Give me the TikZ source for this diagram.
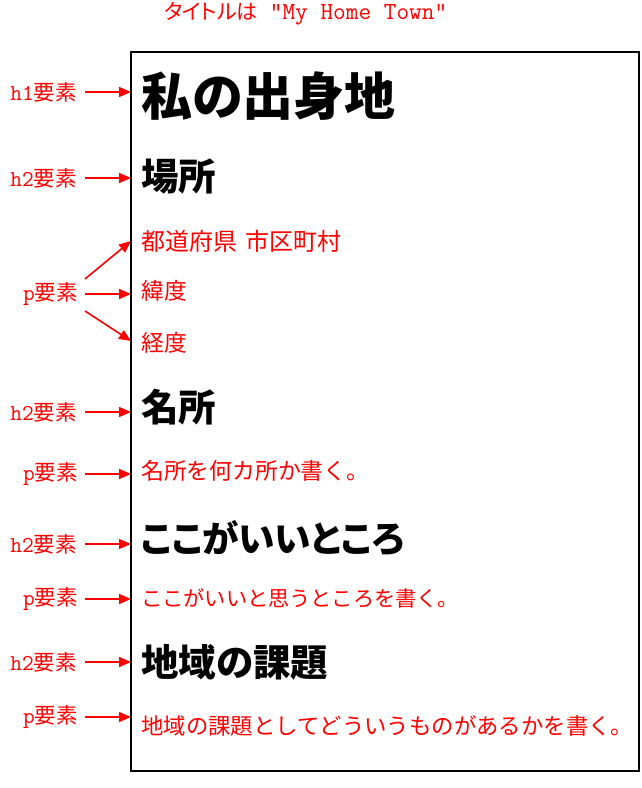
\documentclass[tikz,border=0pt]{standalone}
\usepackage{fontspec}
\usetikzlibrary{arrows.meta}
\newfontfamily\jp{Noto Sans CJK JP}
\newfontfamily\jpp{Noto Sans CJK JP}[RawFeature=+palt]
\newfontfamily\mono{Latin Modern Mono}
\definecolor{myred}{HTML}{FF0000}
\begin{document}
\begin{tikzpicture}[x=1pt,y=-1pt,
  lbl/.style={inner sep=0pt,anchor=east,text=myred},
  hone/.style={inner sep=0pt,anchor=west,font=\jpp\bfseries\fontsize{51}{60}\selectfont},
  htwo/.style={inner sep=0pt,anchor=west,font=\jpp\bfseries\fontsize{37.5}{44}\selectfont},
  ptext/.style={inner sep=0pt,anchor=west,text=myred,font=\jp\fontsize{22.8}{26}\selectfont},
  arr/.style={draw=myred,line width=1.6pt,-{Triangle[length=12pt,width=10pt]}},
  pagebox/.style={draw=black,line width=1.5pt}]
\useasboundingbox (0,0) rectangle (641,788);
\newcommand{\lab}[1]{{\mono\fontsize{22.8}{24}\selectfont #1}{\jp\fontsize{21.5}{24}\selectfont 要素}}
% title
\node[inner sep=0pt,anchor=west,text=myred] (title) at (164,14)
  {{\jpp\fontsize{21}{25}\selectfont タイトルは}\hspace{12pt}{\mono\fontsize{24.6}{25}\selectfont "My Home Town"}};
% page box
\draw[pagebox] (131,52) rectangle (639,771);
% contents
\node[hone] (t1) at (141,96) {私の出身地};
\node[htwo] (t2) at (141,176) {場所};
\node[ptext,font=\jp\fontsize{24}{26}\selectfont] (t3) at (141,241) {都道府県\hspace{8pt}市区町村};
\node[ptext] (t4) at (141,291) {緯度};
\node[ptext] (t5) at (141,343) {経度};
\node[htwo] (t6) at (141,407) {名所};
\node[ptext] (t7) at (141,471) {名所を何カ所か書く。};
\node[htwo,font=\jpp\bfseries\fontsize{36.5}{44}\selectfont] (t8) at (141,538) {ここがいいところ};
\node[ptext,font=\jp\fontsize{21.2}{26}\selectfont] (t9) at (141,598) {ここがいいと思うところを書く。};
\node[htwo] (t10) at (141,662) {地域の課題};
\node[ptext,font=\jp\fontsize{22.4}{26}\selectfont] (t11) at (141,726) {地域の課題としてどういうものがあるかを書く。};
% labels
\node[lbl] (l1) at (77,92) {\lab{h1}};
\node[lbl] (l2) at (77,178) {\lab{h2}};
\node[lbl] (l3) at (78,294) {\lab{p}};
\node[lbl] (l4) at (77,412) {\lab{h2}};
\node[lbl] (l5) at (78,474) {\lab{p}};
\node[lbl] (l6) at (77,544) {\lab{h2}};
\node[lbl] (l7) at (78,599) {\lab{p}};
\node[lbl] (l8) at (77,662) {\lab{h2}};
\node[lbl] (l9) at (78,717) {\lab{p}};
% arrow end points on the page edge
\coordinate (e1) at (131,92);
\coordinate (e2) at (131,178);
\coordinate (e3a) at (131,241);
\coordinate (e3b) at (131,294);
\coordinate (e3c) at (131,341);
\coordinate (e4) at (131,412);
\coordinate (e5) at (131,474);
\coordinate (e6) at (131,544);
\coordinate (e7) at (131,599);
\coordinate (e8) at (131,662);
\coordinate (e9) at (131,717);
\coordinate (s3a) at (85,279);
\coordinate (s3c) at (85,311);
% arrows
\draw[arr,shorten <=8pt] (l1.east) -- (e1);
\draw[arr,shorten <=8pt] (l2.east) -- (e2);
\draw[arr] (s3a) -- (e3a);
\draw[arr,shorten <=7pt] (l3.east) -- (e3b);
\draw[arr] (s3c) -- (e3c);
\draw[arr,shorten <=8pt] (l4.east) -- (e4);
\draw[arr,shorten <=7pt] (l5.east) -- (e5);
\draw[arr,shorten <=8pt] (l6.east) -- (e6);
\draw[arr,shorten <=7pt] (l7.east) -- (e7);
\draw[arr,shorten <=8pt] (l8.east) -- (e8);
\draw[arr,shorten <=7pt] (l9.east) -- (e9);
\end{tikzpicture}
\end{document}
